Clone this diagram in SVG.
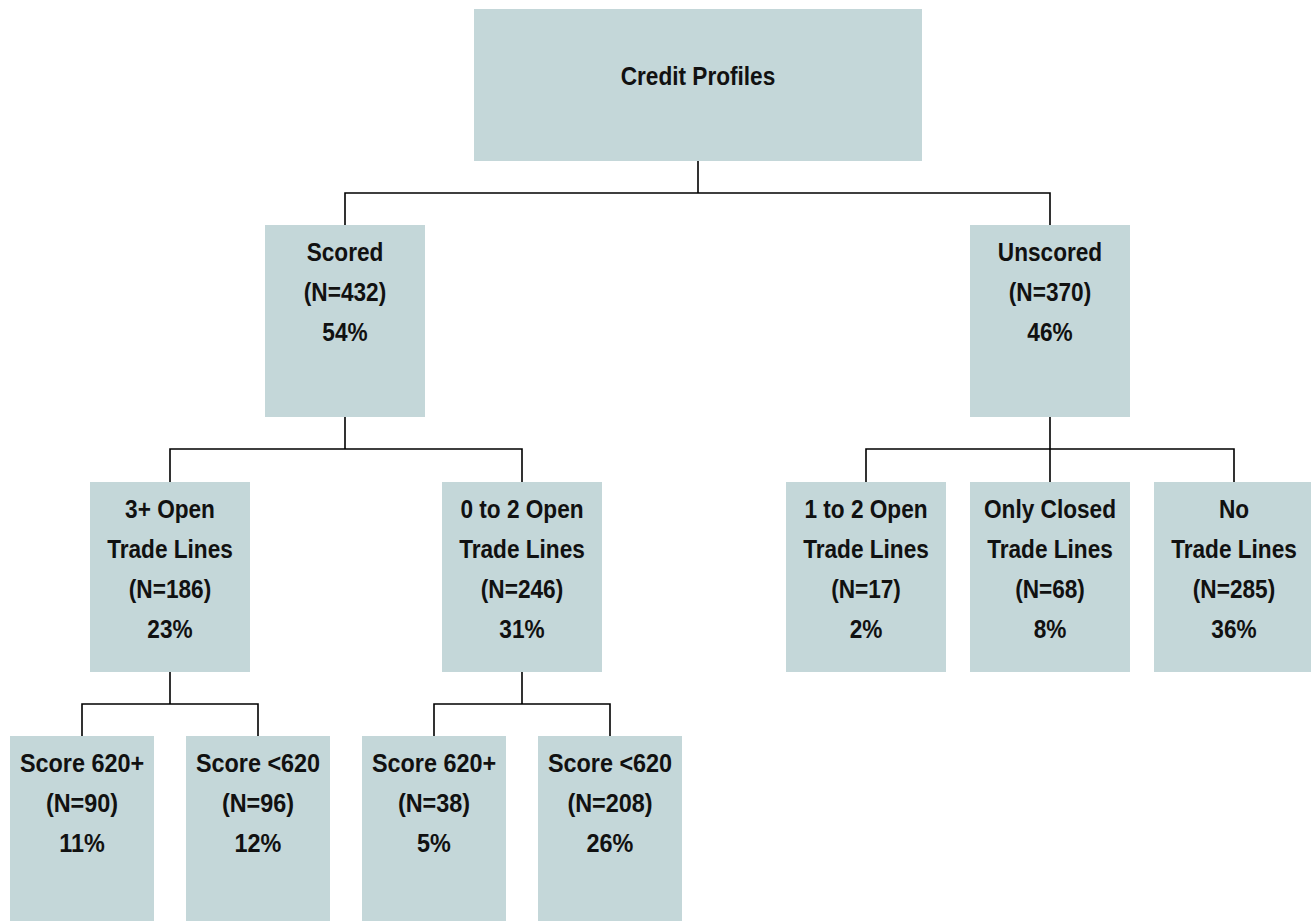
<svg xmlns="http://www.w3.org/2000/svg" width="1311" height="921" viewBox="0 0 1311 921">
<style>
.box{fill:#c4d7d9;}
.t{font-family:"Liberation Sans",Arial,sans-serif;font-weight:bold;font-size:26px;fill:#111;text-anchor:middle;}
.c{fill:none;stroke:#000;stroke-width:1.6;}
</style>
<rect width="1311" height="921" fill="#fff"/>
<g id="connectors">
<path class="c" d="M698 161V193M345 225V193H1050V225"/>
<path class="c" d="M345 417V449M170 482V449H522V482"/>
<path class="c" d="M1050 417V482M866 482V449H1234V482"/>
<path class="c" d="M170 672V704M82 736V704H258V736"/>
<path class="c" d="M522 672V704M434 736V704H610V736"/>
</g>
<g id="root">
<rect class="box" x="474" y="9" width="448" height="152"/>
<text class="t" transform="translate(698 0) scale(0.87 1)"><tspan x="0" y="85">Credit Profiles</tspan></text>
</g>
<g id="scored">
<rect class="box" x="265" y="225" width="160" height="192"/>
<text class="t" transform="translate(345 0) scale(0.87 1)"><tspan x="0" y="261">Scored</tspan><tspan x="0" y="301">(N=432)</tspan><tspan x="0" y="341">54%</tspan></text>
</g>
<g id="unscored">
<rect class="box" x="970" y="225" width="160" height="192"/>
<text class="t" transform="translate(1050 0) scale(0.87 1)"><tspan x="0" y="261">Unscored</tspan><tspan x="0" y="301">(N=370)</tspan><tspan x="0" y="341">46%</tspan></text>
</g>
<g id="open3plus">
<rect class="box" x="90" y="482" width="160" height="190"/>
<text class="t" transform="translate(170 0) scale(0.87 1)"><tspan x="0" y="518">3+ Open</tspan><tspan x="0" y="558">Trade Lines</tspan><tspan x="0" y="598">(N=186)</tspan><tspan x="0" y="638">23%</tspan></text>
</g>
<g id="open0to2">
<rect class="box" x="442" y="482" width="160" height="190"/>
<text class="t" transform="translate(522 0) scale(0.87 1)"><tspan x="0" y="518">0 to 2 Open</tspan><tspan x="0" y="558">Trade Lines</tspan><tspan x="0" y="598">(N=246)</tspan><tspan x="0" y="638">31%</tspan></text>
</g>
<g id="open1to2">
<rect class="box" x="786" y="482" width="160" height="190"/>
<text class="t" transform="translate(866 0) scale(0.87 1)"><tspan x="0" y="518">1 to 2 Open</tspan><tspan x="0" y="558">Trade Lines</tspan><tspan x="0" y="598">(N=17)</tspan><tspan x="0" y="638">2%</tspan></text>
</g>
<g id="onlyclosed">
<rect class="box" x="970" y="482" width="160" height="190"/>
<text class="t" transform="translate(1050 0) scale(0.87 1)"><tspan x="0" y="518">Only Closed</tspan><tspan x="0" y="558">Trade Lines</tspan><tspan x="0" y="598">(N=68)</tspan><tspan x="0" y="638">8%</tspan></text>
</g>
<g id="notrade">
<rect class="box" x="1154" y="482" width="160" height="190"/>
<text class="t" transform="translate(1234 0) scale(0.87 1)"><tspan x="0" y="518">No</tspan><tspan x="0" y="558">Trade Lines</tspan><tspan x="0" y="598">(N=285)</tspan><tspan x="0" y="638">36%</tspan></text>
</g>
<g id="a620plus">
<rect class="box" x="10" y="736" width="144" height="185"/>
<text class="t" transform="translate(82 0) scale(0.9 1)"><tspan x="0" y="772">Score 620+</tspan><tspan x="0" y="812">(N=90)</tspan><tspan x="0" y="852">11%</tspan></text>
</g>
<g id="a620minus">
<rect class="box" x="186" y="736" width="144" height="185"/>
<text class="t" transform="translate(258 0) scale(0.9 1)"><tspan x="0" y="772">Score &lt;620</tspan><tspan x="0" y="812">(N=96)</tspan><tspan x="0" y="852">12%</tspan></text>
</g>
<g id="b620plus">
<rect class="box" x="362" y="736" width="144" height="185"/>
<text class="t" transform="translate(434 0) scale(0.9 1)"><tspan x="0" y="772">Score 620+</tspan><tspan x="0" y="812">(N=38)</tspan><tspan x="0" y="852">5%</tspan></text>
</g>
<g id="b620minus">
<rect class="box" x="538" y="736" width="144" height="185"/>
<text class="t" transform="translate(610 0) scale(0.9 1)"><tspan x="0" y="772">Score &lt;620</tspan><tspan x="0" y="812">(N=208)</tspan><tspan x="0" y="852">26%</tspan></text>
</g>
</svg>
